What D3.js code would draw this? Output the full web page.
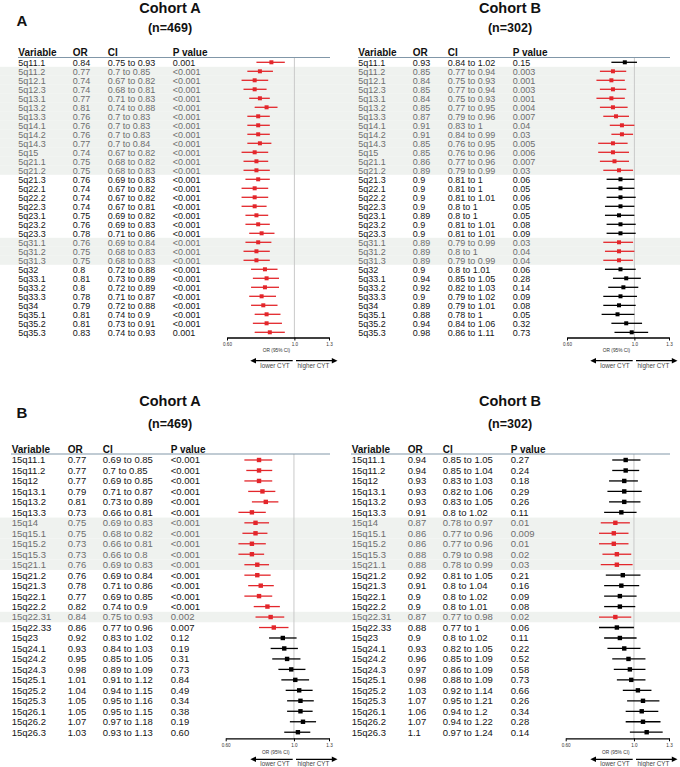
<!DOCTYPE html>
<html><head><meta charset="utf-8">
<script src="https://cdn.jsdelivr.net/npm/d3@7"></script>
<style>
body{margin:0;background:#fff;}
svg{display:block;font-family:"Liberation Sans",Arial,Helvetica,sans-serif;}
</style></head>
<body><svg id="c" width="680" height="767"></svg>
<script>
// ---------- DATA ----------
const headers = ["Variable","OR","CI","P value"];
const cohortTitles = ["Cohort A","Cohort B"];
const cohortN = ["(n=469)","(n=302)"];
const panelLetters = ["A","B"];
const tickValues = [0.6, 1.0, 1.3];
const tickLabels = ["0.60","1.0","1.3"];
const axisTitle = "OR (95% CI)";
const arrowLabels = ["lower CYT","higher CYT"];

const vars5q = ["5q11.1","5q11.2","5q12.1","5q12.3","5q13.1","5q13.2","5q13.3","5q14.1","5q14.2","5q14.3","5q15","5q21.1","5q21.2","5q21.3","5q22.1","5q22.2","5q22.3","5q23.1","5q23.2","5q23.3","5q31.1","5q31.2","5q31.3","5q32","5q33.1","5q33.2","5q33.3","5q34","5q35.1","5q35.2","5q35.3"];
const or5qA = [0.84,0.77,0.74,0.74,0.77,0.81,0.76,0.76,0.76,0.77,0.74,0.75,0.75,0.76,0.74,0.74,0.74,0.75,0.76,0.78,0.76,0.75,0.75,0.8,0.81,0.8,0.78,0.79,0.81,0.81,0.83];
const lo5qA = [0.75,0.7,0.67,0.68,0.71,0.74,0.7,0.7,0.7,0.7,0.67,0.68,0.68,0.69,0.67,0.67,0.67,0.69,0.69,0.71,0.69,0.68,0.68,0.72,0.73,0.72,0.71,0.72,0.74,0.73,0.74];
const hi5qA = [0.93,0.85,0.82,0.81,0.83,0.88,0.83,0.83,0.83,0.84,0.82,0.82,0.83,0.83,0.82,0.82,0.81,0.82,0.83,0.86,0.84,0.83,0.83,0.88,0.89,0.89,0.87,0.88,0.9,0.91,0.93];
const p5qA = ["0.001","<0.001","<0.001","<0.001","<0.001","<0.001","<0.001","<0.001","<0.001","<0.001","<0.001","<0.001","<0.001","<0.001","<0.001","<0.001","<0.001","<0.001","<0.001","<0.001","<0.001","<0.001","<0.001","<0.001","<0.001","<0.001","<0.001","<0.001","<0.001","<0.001","0.001"];
const or5qB = [0.93,0.85,0.84,0.85,0.84,0.85,0.87,0.91,0.91,0.85,0.85,0.86,0.89,0.9,0.9,0.9,0.9,0.89,0.9,0.9,0.89,0.89,0.89,0.9,0.94,0.92,0.9,0.89,0.88,0.94,0.98];
const lo5qB = [0.84,0.77,0.75,0.77,0.75,0.77,0.79,0.83,0.84,0.76,0.76,0.77,0.79,0.81,0.81,0.81,0.8,0.8,0.81,0.81,0.79,0.8,0.79,0.8,0.85,0.82,0.79,0.79,0.78,0.84,0.86];
const hi5qB = [1.02,0.94,0.93,0.94,0.93,0.95,0.96,1,0.99,0.95,0.96,0.96,0.99,1,1,1.01,1,1,1.01,1.01,0.99,1,0.99,1.01,1.05,1.03,1.02,1.01,1,1.06,1.11];
const p5qB = ["0.15","0.003","0.001","0.003","0.001","0.004","0.007","0.04","0.03","0.005","0.006","0.007","0.03","0.06","0.05","0.06","0.05","0.05","0.08","0.09","0.03","0.04","0.04","0.06","0.28","0.14","0.09","0.08","0.05","0.32","0.73"];

const vars15q = ["15q11.1","15q11.2","15q12","15q13.1","15q13.2","15q13.3","15q14","15q15.1","15q15.2","15q15.3","15q21.1","15q21.2","15q21.3","15q22.1","15q22.2","15q22.31","15q22.33","15q23","15q24.1","15q24.2","15q24.3","15q25.1","15q25.2","15q25.3","15q26.1","15q26.2","15q26.3"];
const or15qA = [0.77,0.77,0.77,0.79,0.81,0.73,0.75,0.75,0.73,0.73,0.76,0.76,0.78,0.77,0.82,0.84,0.86,0.92,0.93,0.95,0.98,1.01,1.04,1.05,1.05,1.07,1.03];
const lo15qA = [0.69,0.7,0.69,0.71,0.73,0.66,0.69,0.68,0.66,0.66,0.69,0.69,0.71,0.69,0.74,0.75,0.77,0.83,0.84,0.85,0.89,0.91,0.94,0.95,0.95,0.97,0.93];
const hi15qA = [0.85,0.85,0.85,0.87,0.89,0.81,0.83,0.82,0.81,0.8,0.83,0.84,0.86,0.85,0.9,0.93,0.96,1.02,1.03,1.05,1.09,1.12,1.15,1.16,1.15,1.18,1.13];
const p15qA = ["<0.001","<0.001","<0.001","<0.001","<0.001","<0.001","<0.001","<0.001","<0.001","<0.001","<0.001","<0.001","<0.001","<0.001","<0.001","0.002","0.007","0.12","0.19","0.31","0.73","0.84","0.49","0.34","0.38","0.19","0.60"];
const or15qB = [0.94,0.94,0.93,0.93,0.93,0.91,0.87,0.86,0.86,0.88,0.88,0.92,0.91,0.9,0.9,0.87,0.88,0.9,0.93,0.96,0.97,0.98,1.03,1.07,1.06,1.07,1.1];
const lo15qB = [0.85,0.85,0.83,0.82,0.83,0.8,0.78,0.77,0.77,0.79,0.78,0.81,0.8,0.8,0.8,0.77,0.77,0.8,0.82,0.85,0.86,0.88,0.92,0.95,0.94,0.94,0.97];
const hi15qB = [1.05,1.04,1.03,1.06,1.05,1.02,0.97,0.96,0.96,0.98,0.99,1.05,1.04,1.02,1.01,0.98,1,1.02,1.05,1.09,1.09,1.09,1.14,1.21,1.2,1.22,1.24];
const p15qB = ["0.27","0.24","0.18","0.29","0.26","0.11","0.01","0.009","0.01","0.02","0.03","0.21","0.16","0.09","0.08","0.02","0.06","0.11","0.22","0.52","0.58","0.73","0.66","0.26","0.34","0.28","0.14"];

// ---------- LAYOUT ----------
const RED = "#e3262b", BAND = "#eff2ef", GRAYTXT = "#6e6e6e", DARK = "#151515";
const layouts = [
  {titleY:13, nY:32.3, letterY:26, headerY:56.3, lineY:57.5, row0:62.3, rowH:9, font:9, headFont:10,
   axisY:337.5, orY:352, arrowY:360.7, cytY:367.6, sq:4, cols:[18.3,72.7,107.7,172.7], lineX0:18, lineX1:330, ax0:227, ax1:329},
  {titleY:405.5, nY:427.7, letterY:418.3, headerY:452.8, lineY:454, row0:460, rowH:10.47, font:9.5, headFont:10,
   axisY:738.3, orY:754, arrowY:759.3, cytY:765.8, sq:4.4, cols:[11.7,67.7,102.7,170.7], lineX0:11, lineX1:330, ax0:225.7, ax1:329}
];
const panels = [
  {vars:vars5q, cohorts:[{or:or5qA,lo:lo5qA,hi:hi5qA,p:p5qA},{or:or5qB,lo:lo5qB,hi:hi5qB,p:p5qB}]},
  {vars:vars15q, cohorts:[{or:or15qA,lo:lo15qA,hi:hi15qA,p:p15qA},{or:or15qB,lo:lo15qB,hi:hi15qB,p:p15qB}]}
];

const pNum = s => s.startsWith("<") ? +s.slice(1)/2 : +s;
const svg = d3.select("#c");

panels.forEach((panel, pi) => {
  const L = layouts[pi];
  const n = panel.vars.length;
  const sigs = panel.cohorts.map(c => c.p.map(s => pNum(s) < 0.05));
  const both = d3.range(n).map(i => sigs[0][i] && sigs[1][i]);
  const yc = i => L.row0 + L.rowH * i;

  svg.append("text").attr("x",16.5).attr("y",L.letterY).attr("font-size",15).attr("font-weight","bold")
     .attr("fill","#111").text(panelLetters[pi]);

  panel.cohorts.forEach((c, ci) => {
    const ox = ci * 340;
    const g = svg.append("g").attr("transform",`translate(${ox},0)`);
    // bands
    g.selectAll("rect.band").data(d3.range(n).filter(i => both[i])).join("rect")
      .attr("x",0).attr("width",340).attr("y",i => yc(i) - L.rowH/2).attr("height",L.rowH).attr("fill",BAND);
    // titles
    g.append("text").attr("x",170).attr("y",L.titleY).attr("text-anchor","middle").attr("font-size",14.5)
      .attr("font-weight","bold").attr("fill","#111").text(cohortTitles[ci]);
    g.append("text").attr("x",170).attr("y",L.nY).attr("text-anchor","middle").attr("font-size",12.5)
      .attr("font-weight","bold").attr("fill","#111").text(cohortN[ci]);
    // headers
    headers.forEach((h, hi) => {
      g.append("text").attr("x",L.cols[hi]).attr("y",L.headerY).attr("font-size",L.headFont)
        .attr("font-weight","bold").attr("fill","#111").text(h);
    });
    // rows text
    const rows = d3.range(n);
    const cols = [i => panel.vars[i], i => String(c.or[i]), i => `${c.lo[i]} to ${c.hi[i]}`, i => c.p[i]];
    cols.forEach((f, k) => {
      g.selectAll(null).data(rows).join("text")
        .attr("x",L.cols[k]).attr("y",i => yc(i) + L.font*0.36).attr("font-size",L.font)
        .attr("fill",i => both[i] ? GRAYTXT : DARK).text(f);
    });
    // scale
    const x = d3.scaleLog().domain([tickValues[0], tickValues[2]]).range([L.ax0, L.ax1]);
    // reference line
    g.append("line").attr("x1",x(1)).attr("x2",x(1)).attr("y1",L.lineY).attr("y2",L.axisY)
      .attr("stroke","#c9c9c9").attr("stroke-width",1);
    // header line
    g.append("line").attr("x1",L.lineX0).attr("x2",L.lineX1).attr("y1",L.lineY).attr("y2",L.lineY)
      .attr("stroke","#8197a8").attr("stroke-width",1);
    // CI lines & squares
    const col = i => sigs[ci][i] ? RED : "#000";
    g.selectAll(null).data(rows).join("line")
      .attr("x1",i => x(c.lo[i])).attr("x2",i => x(c.hi[i])).attr("y1",yc).attr("y2",yc)
      .attr("stroke",col).attr("stroke-width",1.3);
    g.selectAll(null).data(rows).join("rect")
      .attr("x",i => x(c.or[i]) - L.sq/2).attr("y",i => yc(i) - L.sq/2).attr("width",L.sq).attr("height",L.sq)
      .attr("fill",col);
    // axis
    const ax = g.append("g").attr("transform",`translate(0,${L.axisY})`)
      .call(d3.axisBottom(x).tickValues(tickValues).tickFormat((d,i) => tickLabels[i]).tickSize(3).tickSizeOuter(0).tickPadding(2.5));
    ax.select(".domain").attr("stroke","#000").attr("stroke-width",1.3);
    ax.selectAll(".tick line").attr("stroke","#000").attr("stroke-width",1);
    ax.selectAll(".tick text").attr("font-size",4.6).attr("fill","#333").attr("font-family","Liberation Sans,Arial,sans-serif");
    g.append("text").attr("x",(L.ax0+L.ax1)/2 - 1.5).attr("y",L.orY).attr("text-anchor","middle")
      .attr("font-size",4.8).attr("fill","#333").text(axisTitle);
    // arrows
    const ay = L.arrowY;
    g.append("line").attr("x1",292.7).attr("x2",254).attr("y1",ay).attr("y2",ay).attr("stroke","#000").attr("stroke-width",1.3);
    g.append("path").attr("d",`M250.3,${ay}L256,${ay-2.8}L256,${ay+2.8}Z`).attr("fill","#000");
    g.append("line").attr("x1",296).attr("x2",333.5).attr("y1",ay).attr("y2",ay).attr("stroke","#000").attr("stroke-width",1.3);
    g.append("path").attr("d",`M337.5,${ay}L331.8,${ay-2.8}L331.8,${ay+2.8}Z`).attr("fill","#000");
    g.append("text").attr("x",275).attr("y",L.cytY).attr("text-anchor","middle").attr("font-size",6.3)
      .attr("fill","#444").text(arrowLabels[0]);
    g.append("text").attr("x",313.5).attr("y",L.cytY).attr("text-anchor","middle").attr("font-size",6.3)
      .attr("fill","#444").text(arrowLabels[1]);
  });
});
</script></body></html>
